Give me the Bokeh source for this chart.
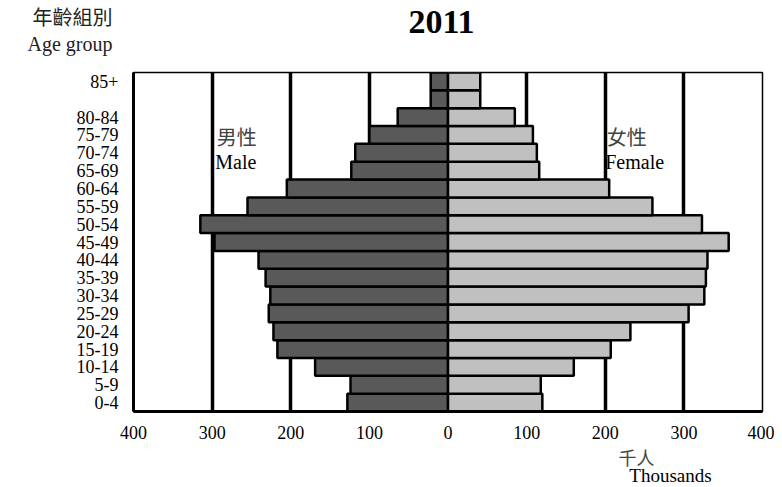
from bokeh.plotting import figure
from bokeh.models import ColumnDataSource, FixedTicker, Range1d, Label
from bokeh.layouts import column
from bokeh.embed import file_html
from bokeh.resources import INLINE

# ---- data (bottom row first) ----
age_labels = ["0-4", "5-9", "10-14", "15-19", "20-24", "25-29", "30-34", "35-39",
              "40-44", "45-49", "50-54", "55-59", "60-64", "65-69", "70-74", "75-79",
              "80-84", "", "85+"]
male = [128, 124, 169, 217, 222, 228, 226, 232, 241, 297, 315, 255, 205, 123, 118, 100, 64, 22, 22]
female = [120, 118, 160, 207, 232, 306, 326, 328, 330, 357, 323, 260, 205, 116, 113, 108, 85, 41, 41]
x_ticks = [-400, -300, -200, -100, 0, 100, 200, 300, 400]
grid_ticks = [-300, -200, -100, 100, 200, 300]

SERIF = "Liberation Serif"
CJK = "Noto Sans CJK TC"
MIXED = "'Liberation Serif', 'Noto Sans CJK TC'"
W = 774
LEFT, RIGHT = 133, 12          # frame borders shared by all stacked figures
HEADER_H, MAIN_H, FOOTER_H = 68, 375, 43


def text_panel(height):
    f = figure(width=W, height=height, output_backend="svg", toolbar_location=None,
               x_range=Range1d(LEFT, W - RIGHT), y_range=Range1d(height, 0),
               x_axis_location=None, y_axis_location=None,
               min_border_left=LEFT, min_border_right=RIGHT, min_border_top=0, min_border_bottom=0)
    f.title.visible = False
    f.grid.visible = False
    f.outline_line_color = None
    f.background_fill_color = "white"
    f.border_fill_color = "white"
    return f


def add_label(fig, x, y, text, font, size, color="black", bold=False, align="center"):
    fig.add_layout(Label(x=x, y=y, text=text, text_font=font, text_font_size=size,
                         text_color=color, text_align=align, text_baseline="middle",
                         text_font_style="bold" if bold else "normal"))


# ---- header ----
header = figure(width=W, height=HEADER_H, output_backend="svg", toolbar_location=None,
                x_range=Range1d(LEFT, W - RIGHT), y_range=Range1d(HEADER_H, 0),
                x_axis_location=None, y_axis_location="left",
                min_border_left=LEFT, min_border_right=RIGHT, min_border_top=0, min_border_bottom=0)
header.title.visible = False
header.grid.visible = False
header.outline_line_color = None
header.background_fill_color = "white"
header.border_fill_color = "white"
hy = header.yaxis[0]
hy.ticker = FixedTicker(ticks=[17, 43])
hy.major_label_overrides = {17: "年齡組別", 43: "Age group"}
hy.axis_line_color = None
hy.major_tick_line_color = None
hy.minor_tick_line_color = None
hy.major_label_text_font = MIXED
hy.major_label_text_font_size = "20px"
hy.major_label_text_color = "#222222"
hy.major_label_standoff = 15
add_label(header, 441, 21, "2011", SERIF, "34px", bold=True)

# ---- main pyramid ----
rows = list(range(len(age_labels)))
src = ColumnDataSource(dict(
    y=rows,
    m_left=[-v for v in male],
    zero=[0] * len(rows),
    f_right=female,
))

p = figure(width=W, height=MAIN_H, output_backend="svg", toolbar_location=None,
           x_range=Range1d(-400, 400), y_range=Range1d(-0.5, len(rows) - 0.5),
           min_border_left=LEFT, min_border_right=RIGHT, min_border_top=4, min_border_bottom=32)
p.title.visible = False
p.background_fill_color = "white"
p.border_fill_color = "white"
p.outline_line_color = "black"
p.outline_line_width = 1.5

p.ygrid.visible = False
p.xgrid.ticker = FixedTicker(ticks=grid_ticks)
p.xgrid.grid_line_color = "black"
p.xgrid.grid_line_width = 3.5

p.hbar(y="y", left="m_left", right="zero", height=1.0, source=src,
       fill_color="#595959", line_color="black", line_width=2.5)
p.hbar(y="y", left="zero", right="f_right", height=1.0, source=src,
       fill_color="#c0c0c0", line_color="black", line_width=2.5)

xa = p.xaxis[0]
xa.ticker = FixedTicker(ticks=x_ticks)
xa.major_label_overrides = {t: str(abs(t)) for t in x_ticks}
xa.major_tick_line_color = None
xa.minor_tick_line_color = None
xa.axis_line_width = 3
xa.axis_line_color = "black"
xa.major_label_text_font = SERIF
xa.major_label_text_font_size = "18px"
xa.major_label_text_color = "black"
xa.major_label_standoff = 8

ya = p.yaxis[0]
ya.ticker = FixedTicker(ticks=rows)
ya.major_label_overrides = {i: lab for i, lab in zip(rows, age_labels)}
ya.major_tick_line_color = None
ya.minor_tick_line_color = None
ya.axis_line_width = 3
ya.axis_line_color = "black"
ya.major_label_text_font = SERIF
ya.major_label_text_font_size = "18px"
ya.major_label_text_color = "black"
ya.major_label_standoff = 9

add_label(p, -294, 14.94, "男性", CJK, "20px", color="#444444", align="left")
add_label(p, -296, 13.46, "Male", SERIF, "20px", align="left")
add_label(p, 202, 14.94, "女性", CJK, "20px", color="#444444", align="left")
add_label(p, 200, 13.46, "Female", SERIF, "20px", align="left")

# ---- footer ----
footer = text_panel(FOOTER_H)
add_label(footer, 636, 13, "千人", CJK, "18px", color="#444444")
add_label(footer, 670, 32, "Thousands", SERIF, "19px")

layout = column(header, p, footer, spacing=0)
open("out.html", "w").write(file_html(layout, INLINE))
